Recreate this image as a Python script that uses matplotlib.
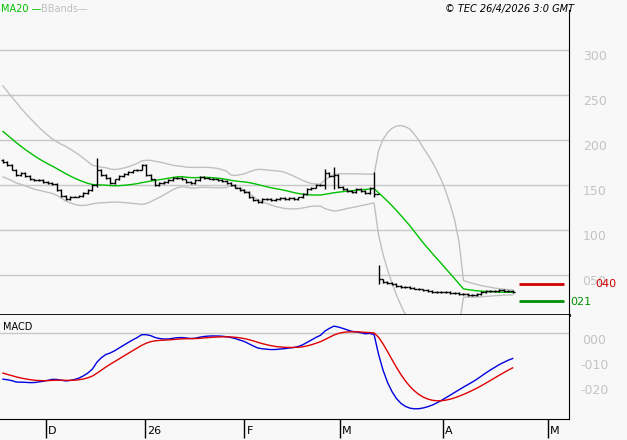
import numpy as np
import pandas as pd
import matplotlib.pyplot as plt

# closes, in price units (axis shows them without the decimal point)
history = [2.62, 2.60, 2.63, 2.58, 2.61, 2.57, 2.59, 2.55, 2.56, 2.52,
           2.54, 2.50, 2.51, 2.48, 2.50, 2.46, 2.47, 2.44, 2.45, 2.42,
           2.58, 2.55, 2.50, 2.46, 2.40, 2.33, 2.28, 2.22, 2.18, 2.12,
           2.07, 2.02, 1.98, 1.95, 1.91, 1.88, 1.85, 1.82, 1.80, 1.78]
closes = [1.75, 1.72, 1.67, 1.61, 1.63, 1.60, 1.56, 1.55, 1.55, 1.53,
          1.52, 1.51, 1.44, 1.38, 1.34, 1.37, 1.37, 1.38, 1.41, 1.44,
          1.50, 1.67, 1.61, 1.58, 1.52, 1.56, 1.60, 1.62, 1.64, 1.66,
          1.67, 1.72, 1.61, 1.56, 1.50, 1.52, 1.53, 1.55, 1.58, 1.58,
          1.56, 1.53, 1.52, 1.55,
          1.59, 1.58, 1.57, 1.56, 1.55, 1.54, 1.52, 1.50, 1.47, 1.44,
          1.42, 1.36, 1.33, 1.31, 1.34, 1.34, 1.33, 1.34, 1.35, 1.34,
          1.35, 1.34, 1.36, 1.40, 1.45, 1.47, 1.50, 1.50, 1.63, 1.60,
          1.61, 1.48, 1.45, 1.43, 1.42, 1.45, 1.43, 1.41, 1.47, 1.40,
          0.45, 0.42, 0.41, 0.40, 0.38, 0.37, 0.37, 0.36, 0.35, 0.34,
          0.33, 0.32, 0.31, 0.31, 0.31, 0.31, 0.30, 0.30, 0.29, 0.29,
          0.28, 0.28, 0.29, 0.31, 0.32, 0.32, 0.32, 0.33, 0.32, 0.32,
          0.31]
# bars with a wide range: index -> (high, low)
wide_bars = {21: (1.80, 1.48), 72: (1.68, 1.45), 74: (1.70, 1.45),
             83: (1.64, 1.36), 84: (0.61, 0.40)}

tick_pos = [9.6, 31.8, 54.0, 75.4, 98.4, 121.9]
tick_labels = ['D', '26', 'F', 'M', 'A', 'M']
resistance = 0.40
support = 0.21

full = pd.Series(history + closes)
ma20 = full.rolling(20).mean()
sd20 = full.rolling(20).std(ddof=0)
macd = full.ewm(span=12, adjust=False).mean() - full.ewm(span=26, adjust=False).mean()
signal = macd.ewm(span=9, adjust=False).mean()
n0 = len(history)
x = np.arange(len(closes))
sl = slice(n0, None)

bg = '#f8f8f8'
fig = plt.figure(figsize=(6.27, 4.4), dpi=100, facecolor=bg)
ax = fig.add_axes([0, 1 - 315 / 440, 569 / 627, 305 / 440], facecolor=bg)
ax2 = fig.add_axes([0, 1 - 419 / 440, 569 / 627, 104 / 440], facecolor=bg)

xlim = (-0.67, 126.6)
for a in (ax, ax2):
    a.set_xlim(*xlim)
    for s in ('top', 'left'):
        a.spines[s].set_visible(False)
    a.spines['right'].set_color('black')
    a.tick_params(left=False, labelleft=False, right=False, labelright=False)

# price panel
for v in np.arange(0.5, 3.01, 0.5):
    ax.axhline(v, color='#c8c8c8', lw=1, zorder=0)
    ax.text(1.045, v, '%.2f' % v, transform=ax.get_yaxis_transform(),
            ha='center', va='top', color='#c4c4c4', fontsize=9)
ax.plot(x, (ma20 + 2 * sd20)[sl], color='#c0c0c0', lw=1)
ax.plot(x, (ma20 - 2 * sd20)[sl], color='#c0c0c0', lw=1)
ax.plot(x, ma20[sl], color='#00c000', lw=1)
prev = history[-1]
for i, c in enumerate(closes):
    o = prev
    hi, lo = wide_bars.get(i, (max(o, c) + 0.01, min(o, c) - 0.01))
    ax.vlines(i, lo, hi, color='black', lw=1)
    ax.hlines(o, i - 0.5, i, color='black', lw=1)
    ax.hlines(c, i, i + 0.5, color='black', lw=1)
    prev = c
ax.hlines(resistance, 115.5, 125.5, color='#d00000', lw=2)
ax.hlines(support, 115.5, 125.5, color='#009000', lw=2)
ax.text(132.5, resistance, '%.2f' % resistance, color='#d00000', fontsize=8, va='center')
ax.text(126.8, support - 0.01, '%.2f' % support, color='#009000', fontsize=8, va='center')
ax.set_ylim(0.056, 3.44)
ax.tick_params(bottom=False, labelbottom=False)
ax.spines['bottom'].set_linewidth(2)

# remove decimal points like the source chart
for t in ax.texts:
    t.set_text(t.get_text().replace('.', ''))

fig.text(0.002, 0.992, 'MA20 —', color='#00c000', fontsize=7, va='top')
fig.text(0.065, 0.992, 'BBands—', color='#c0c0c0', fontsize=7, va='top')
fig.text(0.915, 0.992, '© TEC 26/4/2026 3:0 GMT', color='black', fontsize=7,
         style='italic', ha='right', va='top')

# MACD panel
ax2.axhline(0.0, color='#c8c8c8', lw=1, zorder=0)
for v in (0.0, -0.1, -0.2):
    ax2.text(1.045, v - 0.005, ('%.2f' % v).replace('.', ''),
             transform=ax2.get_yaxis_transform(), ha='center', va='top',
             color='#c4c4c4', fontsize=9)
ax2.plot(x, macd[sl], color='#0000e0', lw=1)
ax2.plot(x, signal[sl], color='#e00000', lw=1)
ax2.set_ylim(-0.344, 0.072)
ax2.text(0.005, 0.93, 'MACD', transform=ax2.transAxes, fontsize=7, va='top')
ax2.set_xticks(tick_pos)
ax2.set_xticklabels(tick_labels, fontsize=8, ha='left')
ax2.tick_params(axis='x', direction='out', length=14, width=1, pad=-9, color='black')
for lab in ax2.get_xticklabels():
    lab.set_x(0)
import matplotlib.transforms as mtransforms
off = mtransforms.ScaledTranslation(2 / 100, 0, fig.dpi_scale_trans)
for lab in ax2.get_xticklabels():
    lab.set_transform(lab.get_transform() + off)

fig.savefig('out.png', dpi=100, facecolor=bg)
